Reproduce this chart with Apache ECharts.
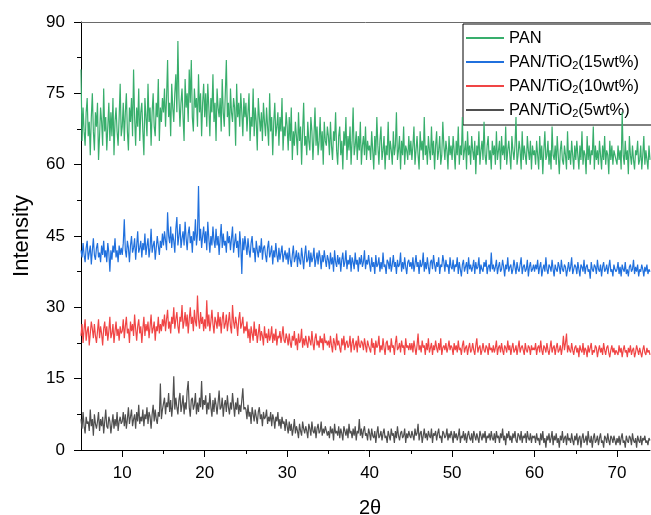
<!DOCTYPE html>
<html>
<head>
<meta charset="utf-8">
<script src="https://cdn.jsdelivr.net/npm/echarts@6/dist/echarts.min.js"></script>
<style>
  html, body { margin: 0; padding: 0; background: #fff; }
  #chart { width: 651px; height: 515px; }
</style>
</head>
<body>
<div id="chart"></div>
<script>
// XRD scans, 2θ from 5° to 74° in 0.125° steps
const scanStart = 5;
const scanStep = 0.125;

const seriesNames = ['PAN', 'PAN/TiO2(15wt%)', 'PAN/TiO2(10wt%)', 'PAN/TiO2(5wt%)'];

const xMajorTicks = [10, 20, 30, 40, 50, 60, 70];
const xMinorTicks = [15, 25, 35, 45, 55, 65];
const yTicks = [0, 15, 30, 45, 60, 75, 90];

const pan = [
  80, 65, 72, 67, 64, 71, 74, 66, 69, 62, 70, 75, 67, 63, 71, 68, 73, 61, 66, 72,
  69, 64, 76, 67, 70, 63, 68, 73, 65, 71, 66, 74, 62, 69, 72, 67, 64, 70, 77, 66,
  68, 73, 65, 71, 75, 67, 63, 72, 69, 74, 66, 80, 70, 64, 72, 68, 76, 65, 71, 73,
  67, 62, 74, 70, 66, 77, 69, 72, 64, 71, 75, 68, 66, 73, 70, 78, 65, 72, 69, 74,
  71, 76, 68, 74, 82, 70, 73, 66, 77, 72, 69, 75, 79, 71, 86, 74, 68, 73, 76, 70,
  65, 78, 72, 75, 69, 80, 73, 82, 70, 67, 76, 72, 74, 68, 79, 71, 75, 66, 73, 77,
  70, 75, 68, 77, 72, 66, 74, 71, 79, 69, 73, 65, 76, 72, 70, 74, 67, 78, 71, 68,
  75, 82, 70, 73, 66, 76, 71, 69, 74, 72, 64, 77, 70, 73, 68, 75, 71, 66, 74, 70,
  73, 67, 71, 75, 65, 70, 68, 76, 66, 72, 69, 63, 74, 70, 67, 71, 65, 73, 69, 66,
  72, 68, 64, 75, 67, 70, 62, 69, 73, 66, 68, 71, 64, 70, 67, 74, 63, 68, 66, 71,
  68, 63, 70, 65, 72, 61, 67, 64, 69, 66, 62, 71, 65, 68, 60, 67, 73, 64, 66, 62,
  69, 65, 63, 70, 67, 61, 66, 72, 64, 68, 62, 65, 70, 63, 67, 60, 69, 65, 64, 68,
  66, 62, 69, 64, 61, 67, 65, 71, 63, 60, 66, 68, 62, 65, 59, 67, 64, 70, 61, 66,
  63, 68, 60, 65, 72, 62, 64, 67, 61, 66, 63, 69, 60, 64, 66, 62, 68, 61, 65, 63,
  64, 61, 67, 63, 59, 66, 62, 70, 64, 60, 65, 68, 61, 63, 66, 59, 64, 62, 69, 61,
  65, 63, 60, 67, 62, 64, 71, 61, 63, 66, 59, 65, 62, 68, 60, 64, 63, 61, 66, 62,
  65, 61, 64, 68, 60, 63, 66, 62, 59, 67, 63, 65, 61, 70, 62, 64, 60, 66, 63, 61,
  68, 62, 65, 59, 64, 67, 61, 63, 66, 60, 62, 69, 64, 61, 65, 63, 59, 66, 62, 64,
  61, 66, 63, 59, 65, 62, 68, 60, 64, 62, 70, 61, 63, 65, 59, 67, 62, 64, 60, 66,
  63, 61, 65, 58, 64, 62, 67, 60, 63, 65, 61, 69, 62, 60, 64, 66, 61, 63, 59, 65,
  62, 64, 60, 67, 61, 63, 65, 59, 66, 62, 64, 61, 68, 60, 63, 65, 62, 59, 66, 63,
  61, 64, 70, 60, 62, 65, 63, 59, 67, 61, 64, 62, 60, 66, 63, 61, 65, 59, 64, 62,
  63, 60, 65, 62, 59, 66, 61, 64, 58, 63, 67, 61, 62, 65, 60, 63, 59, 68, 62, 61,
  64, 60, 66, 62, 58, 63, 65, 61, 60, 64, 62, 59, 67, 61, 63, 60, 65, 62, 59, 64,
  61, 65, 62, 59, 64, 61, 67, 60, 63, 62, 58, 66, 61, 64, 60, 63, 62, 68, 59, 64,
  61, 63, 60, 65, 62, 59, 64, 61, 66, 60, 63, 62, 58, 65, 61, 64, 60, 63, 62, 61,
  60, 64, 61, 63, 59, 71, 62, 60, 65, 61, 63, 58, 66, 62, 60, 64, 61, 59, 63, 62,
  65, 60, 61, 64, 59, 62, 66, 60, 63, 61, 59, 64, 61
];

const tio2_15 = [
  42, 40.5, 43.5, 41, 39.5, 42.5, 44, 40, 41.5, 43, 39, 42, 44.5, 41, 40, 42.5, 43.5, 40.5, 41.5, 39.5,
  43, 41, 44, 40.5, 42, 39.5, 43.5, 41.5, 37.5, 42, 40, 43, 41.5, 44.5, 40.5, 42, 39.5, 43, 41, 42.5,
  41, 43.5, 48.5, 42, 40.5, 44, 42.5, 39.5, 43, 45, 41.5, 42.5, 44.5, 40, 43, 46, 41.5, 42.5, 44, 40.5,
  43.5, 42, 45.5, 41, 43, 44.5, 40.5, 42.5, 46.5, 41.5, 43, 44, 40, 42.5, 45, 43, 41, 44, 42.5, 45.5,
  43, 46, 44, 42, 50, 45, 43.5, 47, 42.5, 45.5, 44, 41.5, 46.5, 49, 43, 45, 47.5, 42.5, 44.5, 46,
  43, 48, 44.5, 42, 45.5, 47, 43.5, 45, 41.5, 46, 44, 48.5, 43, 45.5, 55.5, 44, 46.5, 42.5, 45, 47,
  43.5, 46, 42, 48, 44.5, 41.5, 45, 43, 47, 44, 42.5, 46.5, 43, 45, 41, 44.5, 47.5, 42.5, 45.5, 43,
  44, 41.5, 46, 43.5, 45, 42, 44.5, 47, 41.5, 43.5, 45.5, 42.5, 44, 40.5, 46, 43, 37, 44.5, 42, 45,
  43, 41, 44.5, 42, 40.5, 43.5, 45, 41.5, 42.5, 39.5, 44, 42, 40.5, 43, 41.5, 44.5, 40, 42.5, 43, 41,
  39.5, 42.5, 44, 40.5, 41.5, 43, 39, 42, 40.5, 43.5, 41, 39.5, 42.5, 40, 41.5, 43, 39.5, 41, 42, 40,
  41.5, 39, 42.5, 40, 38.5, 41, 43, 39.5, 40.5, 42, 38.5, 41.5, 40, 39, 42.5, 40.5, 38, 41, 43, 39.5,
  40, 42, 38.5, 41.5, 39.5, 40.5, 42.5, 38.5, 40, 41.5, 39, 42, 40.5, 38, 41, 39.5, 42, 40, 38.5, 41,
  40, 38, 41.5, 39, 40.5, 37.5, 42, 39.5, 38.5, 41, 39, 40.5, 37.5, 40, 41.5, 38.5, 39.5, 42, 38, 40,
  39, 41, 37.5, 40.5, 39.5, 38, 41.5, 39, 40, 37.5, 40.5, 39, 41, 38.5, 39.5, 42, 38, 40, 39, 41,
  39, 37.5, 40.5, 38.5, 39.5, 37, 41, 38.5, 39, 40.5, 37.5, 39.5, 38, 41.5, 38.5, 39, 37, 40, 39.5, 38,
  40.5, 37.5, 39, 41, 38.5, 39.5, 37, 40, 38.5, 39, 41.5, 37.5, 39.5, 38, 40.5, 38.5, 37, 39.5, 40, 38.5,
  39.5, 38, 40.5, 37.5, 39, 41, 38.5, 39.5, 37, 40, 38.5, 39, 41.5, 37.5, 39.5, 38, 40.5, 38.5, 37, 39.5,
  40, 38, 41, 39, 37.5, 39.5, 38.5, 40.5, 37, 39, 38.5, 41, 39.5, 37.5, 40, 38.5, 39, 37, 40.5, 38.5,
  38, 40, 37.5, 39, 38.5, 40.5, 37, 39.5, 38, 36.5, 39, 40, 37.5, 38.5, 39.5, 37, 40.5, 38, 39, 37.5,
  38.5, 40, 37, 39.5, 38, 38.5, 40.5, 37, 39, 38, 37.5, 39.5, 38.5, 40, 37, 38.5, 39, 37.5, 41.5, 38,
  39, 37.5, 38.5, 40, 37, 38.5, 39.5, 37.5, 38, 40, 38.5, 36.5, 39, 38, 40.5, 37.5, 38.5, 39, 37, 38,
  40, 38.5, 37, 39.5, 38, 37.5, 39, 40.5, 37, 38.5, 39, 37.5, 38, 40, 36.5, 38.5, 39.5, 37.5, 38, 39,
  37.5, 39, 38, 40, 37, 38.5, 39.5, 36.5, 38, 39, 37.5, 40.5, 38, 37, 39, 38.5, 37.5, 40, 38, 36.5,
  39, 38, 37.5, 39.5, 38.5, 37, 40, 38, 37.5, 39, 38.5, 36.5, 38, 39.5, 37.5, 38.5, 40.5, 37, 38, 39,
  38.5, 37, 39.5, 38, 36.5, 39, 38.5, 37.5, 40, 37, 38.5, 39, 37.5, 38, 36, 39.5, 38, 37.5, 39, 38.5,
  37, 40, 38, 37.5, 39, 36.5, 38.5, 39.5, 37.5, 38, 39, 37, 38.5, 40, 37.5, 38, 36.5, 39, 38, 37.5,
  38, 39.5, 37, 38.5, 36.5, 39, 38, 37.5, 39.5, 37, 38, 36.5, 38.5, 39, 37.5, 38, 40, 37, 38.5, 37.5,
  39, 36.5, 38, 37.5, 39, 38, 36.5, 38.5, 37.5, 39, 37, 38, 37.5
];

const tio2_10 = [
  24, 26.5, 22.5, 25.5, 27.5, 23, 25, 26, 22, 24.5, 27, 25.5, 23.5, 26.5, 24, 22.5, 25, 27.5, 23.5, 26,
  24.5, 22, 25.5, 27, 24, 26, 23, 25, 28, 23.5, 24.5, 26.5, 22.5, 25, 27, 24, 25.5, 23, 26, 24.5,
  25, 27.5, 23.5, 26, 28, 24.5, 25.5, 22.5, 27, 25, 26.5, 24, 28.5, 25.5, 23, 26, 27.5, 24.5, 26, 22.5,
  25.5, 28, 24, 26.5, 25, 27, 23.5, 26, 28.5, 24.5, 25.5, 27, 23, 26, 25, 28, 24.5, 26.5, 25, 27.5,
  26, 28.5, 25, 27.5, 29.5, 25.5, 27, 24.5, 28, 26.5, 30, 25.5, 27.5, 29, 26, 24.5, 28, 27, 30.5, 25.5,
  27, 29, 26, 28.5, 24.5, 27.5, 30, 26.5, 28, 25, 29.5, 27, 26, 32.5, 27.5, 25.5, 29, 26.5, 28, 25,
  27.5, 25.5, 31.5, 26, 28.5, 25, 27, 29.5, 26.5, 24.5, 28, 27, 25.5, 29, 26, 28, 24.5, 27.5, 29, 25.5,
  26.5, 28.5, 25, 27, 29, 26, 24.5, 30.5, 27, 25.5, 28, 26.5, 24, 27.5, 29, 25.5, 26.5, 28, 24.5, 26,
  25, 27, 23.5, 25.5, 22.5, 26, 24.5, 23, 27, 24, 25.5, 22.5, 24.5, 26.5, 23, 25, 24, 22, 26, 23.5,
  24.5, 22.5, 25.5, 23, 24, 26, 22.5, 24.5, 23, 25.5, 22, 24, 23.5, 25, 22.5, 24, 26, 23, 22.5, 24.5,
  23.5, 22, 24.5, 22.5, 21.5, 24, 23, 25, 22, 23.5, 21, 24.5, 22.5, 23, 25.5, 21.5, 23.5, 22, 24, 22.5,
  21.5, 24, 23, 22, 25, 22.5, 21, 23.5, 24.5, 22, 23, 21.5, 24, 22.5, 23.5, 21, 24.5, 22.5, 23, 22,
  23, 21.5, 24, 22, 20.5, 23.5, 22.5, 21, 24.5, 22, 23, 21.5, 20.5, 23.5, 22, 24, 21, 22.5, 23, 21.5,
  22, 24, 20.5, 22.5, 23.5, 21, 22, 23, 20.5, 24, 22, 21.5, 23, 22.5, 21, 23.5, 22, 20.5, 23, 22,
  22, 20.5, 23.5, 21.5, 22.5, 20, 23, 21.5, 22, 24, 20.5, 22, 21, 23.5, 21.5, 20, 22.5, 23, 21, 22,
  20.5, 23.5, 21.5, 22, 20, 22.5, 24, 21, 21.5, 22.5, 20.5, 23, 21.5, 22, 20, 23.5, 21.5, 22, 21, 22.5,
  21, 22.5, 20.5, 23, 21.5, 20, 22, 24.5, 21, 22, 20.5, 23, 21.5, 22, 20, 22.5, 21, 23.5, 20.5, 21.5,
  22.5, 20, 22, 21, 23, 21.5, 20.5, 22.5, 21, 23.5, 20, 21.5, 22, 21, 22.5, 20.5, 21.5, 23, 21, 22,
  21.5, 20, 22.5, 21, 22, 20.5, 23, 21, 21.5, 20, 22, 23, 20.5, 21.5, 22, 20, 21.5, 22.5, 20.5, 21,
  22.5, 21, 20, 22, 23.5, 20.5, 21.5, 22, 20, 21, 22.5, 21, 20.5, 22, 21.5, 20, 22.5, 21, 21.5, 20.5,
  22, 20.5, 21.5, 23, 20, 21.5, 22, 20.5, 22.5, 21, 20, 22, 21.5, 20.5, 23, 21, 22, 20, 21.5, 22.5,
  20.5, 21, 22, 20, 21.5, 23, 20.5, 21.5, 22, 21, 20, 22.5, 21, 20.5, 22, 21.5, 20, 22, 21, 21.5,
  21, 22.5, 20, 21.5, 22, 20.5, 23, 21, 20, 22, 21.5, 20.5, 22.5, 21, 20, 21.5, 23, 20.5, 21.5, 22,
  20, 21.5, 22.5, 20.5, 21, 22, 20, 21.5, 24, 21, 22.5, 24.5, 20.5, 22, 21, 20.5, 22.5, 21, 20, 21.5,
  22, 20.5, 21.5, 19.5, 22, 21, 20.5, 22.5, 20, 21.5, 21, 19.5, 22, 20.5, 21.5, 22.5, 20, 21, 20.5, 22,
  21.5, 19.5, 21, 22, 20.5, 21.5, 20, 22.5, 21, 20, 21.5, 22, 20.5, 19.5, 21, 22, 20.5, 21.5, 20, 21,
  21, 20, 22, 20.5, 21.5, 19.5, 21, 22, 20.5, 21, 19.5, 21.5, 20.5, 22, 20, 21, 21.5, 19.5, 20.5, 22,
  21, 20, 21.5, 20.5, 19.5, 21, 22, 20.5, 20, 21.5, 20.5, 21, 20
];

const tio2_5 = [
  6.5, 4.5, 8, 5, 3.5, 7, 5.5, 6, 4, 8.5, 5, 6.5, 3, 7.5, 5.5, 4.5, 6, 8, 4, 6.5,
  5, 7, 3.5, 6, 8.5, 5, 4.5, 7, 6, 3.5, 5.5, 7.5, 4.5, 6.5, 5, 8, 4, 6, 7, 5.5,
  6, 8, 5, 7.5, 4.5, 6.5, 9, 5.5, 7, 8.5, 5, 6.5, 7.5, 4.5, 8, 6, 9.5, 5.5, 7, 6,
  8.5, 5, 7.5, 6.5, 9, 5.5, 8, 7, 4.5, 7.5, 9.5, 6, 8.5, 6.5, 5.5, 8, 7, 14, 6.5, 8.5,
  8.5, 11, 7.5, 10, 9, 12, 8, 10.5, 7, 9.5, 15.5, 8.5, 11, 9, 7.5, 10.5, 12, 8, 9.5, 11.5,
  7.5, 10, 8.5, 12.5, 14.5, 9, 7, 10.5, 11, 8.5, 9.5, 12, 7.5, 10, 8, 11, 9, 14.5, 8.5, 10.5,
  9.5, 11.5, 7.5, 10, 8.5, 12, 9, 7, 10.5, 8, 11, 9.5, 7.5, 10, 12.5, 8.5, 9, 11, 7, 9.5,
  10.5, 8, 11.5, 9, 7.5, 10, 8.5, 12, 9.5, 7, 10, 8.5, 11, 7.5, 9.5, 8, 10.5, 13, 8.5, 9,
  8.5, 6.5, 9.5, 7, 8, 5.5, 9, 7.5, 6, 8.5, 7, 5.5, 8, 9, 6.5, 7.5, 5, 8, 6.5, 7,
  8.5, 5.5, 7, 6, 8, 5, 7.5, 6.5, 4.5, 7, 6, 8, 5, 6.5, 4.5, 7, 5.5, 6, 4, 6.5,
  5, 3.5, 6, 4, 5.5, 3, 4.5, 6.5, 3.5, 5, 4, 2.5, 5.5, 4, 3, 6, 4.5, 3.5, 5, 4,
  2.5, 5.5, 4.5, 3, 6, 4, 3.5, 5, 2.5, 4.5, 5.5, 3.5, 4, 6, 3, 4.5, 3.5, 5, 4, 3,
  4, 2.5, 5, 3.5, 4.5, 2, 5.5, 3.5, 4, 3, 5, 2.5, 4.5, 3.5, 2, 5, 4, 3, 4.5, 2.5,
  5.5, 3.5, 4, 2.5, 4.5, 3, 5, 2, 4, 3.5, 6.5, 3, 4.5, 2.5, 4, 5, 3, 3.5, 2, 4.5,
  3.5, 2, 4.5, 3, 2.5, 4, 1.5, 3.5, 5, 2.5, 3, 4, 2, 3.5, 4.5, 2.5, 3, 1.5, 4, 3,
  2, 4.5, 3, 3.5, 1.5, 4, 2.5, 5, 3, 2, 3.5, 4, 2.5, 3, 4.5, 1.5, 3.5, 2.5, 4, 3,
  2.5, 4, 3, 2, 4.5, 3, 3.5, 5.5, 2, 3.5, 4, 1.5, 3, 4.5, 2.5, 3.5, 2, 4, 3, 2.5,
  4.5, 1.5, 3.5, 3, 4, 2, 3.5, 4.5, 2.5, 3, 1.5, 4, 3.5, 2.5, 3, 4.5, 2, 3.5, 2.5, 4,
  3, 1.5, 4, 2.5, 3.5, 2, 3, 4.5, 1.5, 3, 2.5, 4, 2, 3.5, 1.5, 3, 4, 2.5, 2, 3.5,
  1.5, 4, 3, 2, 3.5, 2.5, 1.5, 4, 3, 2, 3.5, 2.5, 4, 1.5, 3, 2.5, 3.5, 2, 4, 2.5,
  2, 3.5, 1.5, 4, 2.5, 3, 1.5, 3.5, 2.5, 4.5, 2, 3, 1, 3.5, 2.5, 4, 2, 3, 1.5, 3.5,
  2.5, 4, 2, 1.5, 3.5, 3, 2, 4, 1.5, 3, 2.5, 3.5, 1.5, 4, 2.5, 2, 3.5, 1.5, 3, 2.5,
  3, 1.5, 3.5, 2, 2.5, 1, 3.5, 2, 4, 1.5, 2.5, 0.5, 3, 2, 3.5, 1.5, 2.5, 4, 1, 3,
  2, 3.5, 1.5, 2.5, 0.5, 3, 2, 4, 1.5, 2.5, 3, 1, 3.5, 2, 2.5, 1.5, 3.5, 2, 1, 3,
  2, 3.5, 1, 2.5, 3, 0.5, 2.5, 3.5, 1.5, 2, 3, 1, 4, 2, 1.5, 3, 0.5, 2.5, 3.5, 1.5,
  2, 3, 1, 2.5, 3.5, 1.5, 2, 0.5, 3, 2.5, 1.5, 3.5, 2, 1, 3, 2.5, 1.5, 3, 2, 1,
  2.5, 1.5, 3, 1, 2.5, 3.5, 1.5, 2, 0.5, 3, 2, 1.5, 3, 2.5, 1, 3.5, 2, 1.5, 2.5, 0.5,
  3, 2, 1.5, 3, 1, 2.5, 2, 3, 1.5, 2, 1, 2.5, 2
];

const lineColors = ['#38ae6c', '#2070dd', '#f04545', '#4f4f4f'];

// pair each intensity with its 2θ position
function toPoints(values) {
  return values.map((v, i) => [scanStart + i * scanStep, v]);
}

const font = '"Liberation Sans", Arial, sans-serif';
const allValues = [pan, tio2_15, tio2_10, tio2_5];

const chart = echarts.init(document.getElementById('chart'), null, { renderer: 'canvas' });

chart.setOption({
  animation: false,
  backgroundColor: '#fff',
  textStyle: { fontFamily: font },
  grid: { left: 81, right: 1, top: 22, bottom: 65, containLabel: false, outerBoundsMode: 'none' },
  legend: {
    orient: 'vertical',
    left: 463,
    top: 24,
    padding: [5, 30, 6, 3],
    itemGap: 6,
    itemWidth: 38,
    itemHeight: 2,
    icon: 'rect',
    backgroundColor: '#fff',
    borderColor: '#000',
    borderWidth: 1,
    data: seriesNames,
    formatter: name => name.replace('TiO2', 'TiO{sub|2}'),
    textStyle: {
      fontFamily: font,
      fontSize: 16.5,
      color: '#000',
      lineHeight: 18,
      rich: {
        sub: { fontFamily: font, fontSize: 11, lineHeight: 10, verticalAlign: 'bottom', color: '#000' }
      }
    }
  },
  xAxis: [
    {
      type: 'value',
      min: scanStart,
      max: 74,
      name: '2θ',
      nameLocation: 'middle',
      nameGap: 48,
      nameTextStyle: { fontFamily: font, fontSize: 20, color: '#000', padding: [0, 0, 0, 9] },
      axisLine: { show: true, lineStyle: { color: '#000', width: 1 } },
      axisTick: { show: true, customValues: xMajorTicks, length: 7, lineStyle: { color: '#000' } },
      axisLabel: { customValues: xMajorTicks, fontSize: 17, color: '#000', margin: 15, fontFamily: font },
      splitLine: { show: false }
    },
    {
      type: 'value',
      min: scanStart,
      max: 74,
      position: 'bottom',
      axisLine: { show: false },
      axisTick: { show: true, customValues: xMinorTicks, length: 4, lineStyle: { color: '#000' } },
      axisLabel: { show: false },
      splitLine: { show: false }
    },
    {
      type: 'value',
      min: scanStart,
      max: 74,
      position: 'top',
      axisLine: { show: true, lineStyle: { color: '#6a6a6a', width: 1 } },
      axisTick: { show: false },
      axisLabel: { show: false },
      splitLine: { show: false }
    }
  ],
  yAxis: {
    type: 'value',
    min: yTicks[0],
    max: yTicks[yTicks.length - 1],
    interval: 15,
    name: 'Intensity',
    nameLocation: 'middle',
    nameGap: 48,
    nameTextStyle: { fontFamily: font, fontSize: 22, color: '#000' },
    axisLine: { show: true, lineStyle: { color: '#000', width: 1 } },
    axisTick: { show: true, length: 7, lineStyle: { color: '#000' } },
    minorTick: { show: true, splitNumber: 2, length: 4, lineStyle: { color: '#000' } },
    axisLabel: { fontSize: 17, color: '#000', margin: 16, fontFamily: font },
    splitLine: { show: false }
  },
  series: seriesNames.map((name, k) => ({
    name: name,
    type: 'line',
    xAxisIndex: 0,
    data: toPoints(allValues[k]),
    showSymbol: false,
    symbol: 'none',
    sampling: null,
    color: lineColors[k],
    lineStyle: { color: lineColors[k], width: 1.2 },
    z: 2 + (3 - k)
  }))
});
</script>
</body>
</html>
